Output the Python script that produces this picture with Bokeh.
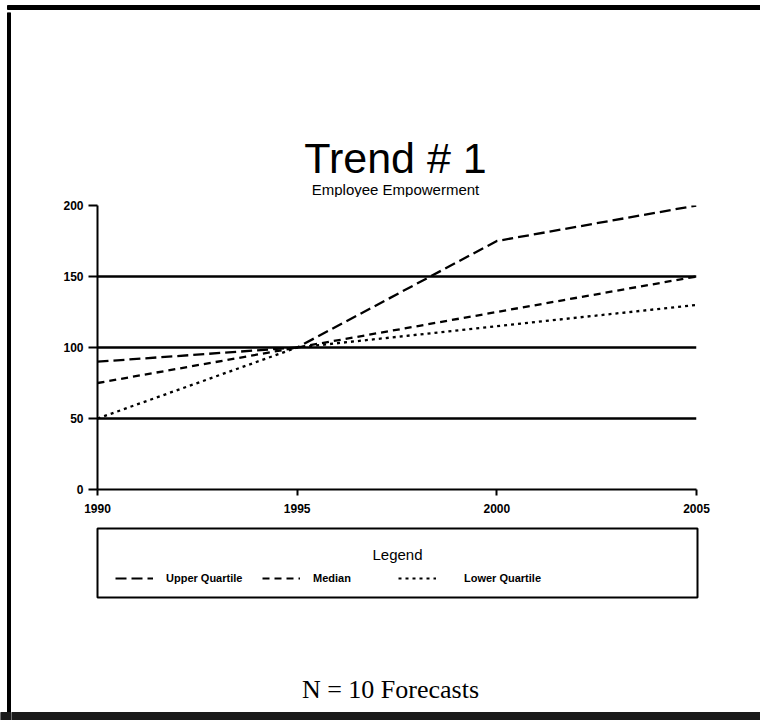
from bokeh.plotting import figure
from bokeh.layouts import column, row
from bokeh.models import Label, Legend, LegendItem, FixedTicker, Range1d
from bokeh.embed import file_html
from bokeh.resources import INLINE

# Forecast values per quartile
years = [1990, 1995, 2000, 2005]
upper_quartile = [90, 100, 175, 200]
median = [75, 100, 125, 150]
lower_quartile = [50, 100, 115, 130]
y_ticks = [0, 50, 100, 150, 200]
x_ticks = [1990, 1995, 2000, 2005]
series_names = ["Upper Quartile", "Median", "Lower Quartile"]
dashes = ["11 5", "7 5", "3 4"]

SANS = "Liberation Sans"
SERIF = "Liberation Serif"
W, H = 760, 720
EDGE_L = 11      # width of the left page rule strip
TOP_H = 12       # height of the top page rule strip
BAND_Y = 712     # top of the dark band along the page bottom
BAND_COLOR = "#1a1a1a"


def blank(x0, x1, y0, y1):
    """Figure without axes whose data units are page pixels (y grows downward)."""
    f = figure(width=x1 - x0, height=y1 - y0,
               x_range=Range1d(x0, x1), y_range=Range1d(y1, y0),
               x_axis_type=None, y_axis_type=None,
               output_backend="svg", toolbar_location=None)
    f.outline_line_color = None
    f.background_fill_color = "white"
    f.border_fill_color = "white"
    f.min_border = 0
    f.frame_align = False
    return f


def text(f, x, y, s, size, font=SANS, style="normal"):
    f.add_layout(Label(x=x, y=y, text=s, text_align="center", text_baseline="middle",
                       text_font=font, text_font_size=size, text_font_style=style,
                       text_color="black"))


# page rules
top_rule = blank(0, W, 0, TOP_H)
top_rule.quad(left=[7], right=[W], top=[5], bottom=[9], color="black")

left_rule = blank(0, EDGE_L, TOP_H, H)
left_rule.quad(left=[7], right=[10], top=[TOP_H], bottom=[BAND_Y], color="black")
left_rule.quad(left=[0], right=[EDGE_L], top=[BAND_Y], bottom=[H], color=BAND_COLOR)

# heading
HEAD_BOT = 197
head = blank(EDGE_L, W, TOP_H, HEAD_BOT)
text(head, 395, 157, "Trend # 1", "43px")
text(head, 395, 189, "Employee Empowerment", "15px")

# main chart: frame spans x 97..696 and y 205..489 on the page
FL, FR, FT, FB = 97, 696, 205, 489
CH_TOP, CH_BOT = HEAD_BOT, 525
p = figure(width=W - EDGE_L, height=CH_BOT - CH_TOP,
           x_range=(1990, 2005), y_range=(0, 200),
           output_backend="svg", toolbar_location=None,
           min_border_left=FL - EDGE_L, min_border_right=W - FR,
           min_border_top=FT - CH_TOP, min_border_bottom=CH_BOT - FB)
p.frame_align = False
p.outline_line_color = None
p.background_fill_color = "white"
p.border_fill_color = "white"

p.xaxis.ticker = FixedTicker(ticks=x_ticks)
p.yaxis.ticker = FixedTicker(ticks=y_ticks)
for ax in (p.xaxis[0], p.yaxis[0]):
    ax.axis_line_color = "black"
    ax.axis_line_width = 2
    ax.major_tick_line_color = "black"
    ax.major_tick_line_width = 2
    ax.major_tick_in = 0
    ax.minor_tick_line_color = None
    ax.major_label_text_font = SANS
    ax.major_label_text_font_style = "bold"
    ax.major_label_text_font_size = "12px"
    ax.major_label_text_color = "black"
p.yaxis.major_tick_out = 9
p.yaxis.major_label_standoff = 5
p.xaxis.major_tick_out = 6
p.xaxis.major_label_standoff = 8

p.xgrid.grid_line_color = None
p.ygrid.grid_line_color = "black"
p.ygrid.grid_line_width = 2.5

series = [upper_quartile, median, lower_quartile]
for vals, dash in zip(series, dashes):
    p.line(years, vals, line_color="black", line_width=2.3, line_dash=dash)

# legend box: frame spans x 97..697 and y 528..597 on the page
LG_TOP, LG_BOT = CH_BOT, 615
BX0, BX1, BY0, BY1 = 97, 697, 528, 597
leg = figure(width=W - EDGE_L, height=LG_BOT - LG_TOP,
             x_range=Range1d(BX0, BX1), y_range=Range1d(BY1, BY0),
             x_axis_type=None, y_axis_type=None,
             output_backend="svg", toolbar_location=None,
             min_border_left=BX0 - EDGE_L, min_border_right=W - BX1,
             min_border_top=BY0 - LG_TOP, min_border_bottom=LG_BOT - BY1)
leg.frame_align = False
leg.background_fill_color = "white"
leg.border_fill_color = "white"
leg.outline_line_color = "black"
leg.outline_line_width = 2
text(leg, 397, 554, "Legend", "15px")

# same series drawn here only to carry the legend swatches (they fall outside the view)
item_x = [115, 262, 398]
standoffs = [13, 13, 28]
for vals, dash, name, gx, so in zip(series, dashes, series_names, item_x, standoffs):
    r = leg.line(years, vals, line_color="black", line_width=2, line_dash=dash)
    lg = Legend(items=[LegendItem(label=name, renderers=[r])],
                location=(gx - BX0, BY1 - 587),
                padding=0, margin=0, spacing=0,
                glyph_width=38, glyph_height=18, label_standoff=so,
                border_line_color=None, background_fill_alpha=0.0,
                label_text_font=SANS, label_text_font_style="bold",
                label_text_font_size="11px", label_text_color="black")
    leg.add_layout(lg, "center")

# footer with the dark band at the very bottom
foot = blank(EDGE_L, W, LG_BOT, H)
text(foot, 390, 689, "N = 10 Forecasts", "26px", font=SERIF)
foot.quad(left=[EDGE_L], right=[W], top=[BAND_Y], bottom=[H], color=BAND_COLOR)

body = column(head, p, leg, foot, spacing=0)
page = column(top_rule, row(left_rule, body, spacing=0), spacing=0)

open("out.html", "w").write(file_html(page, INLINE))
